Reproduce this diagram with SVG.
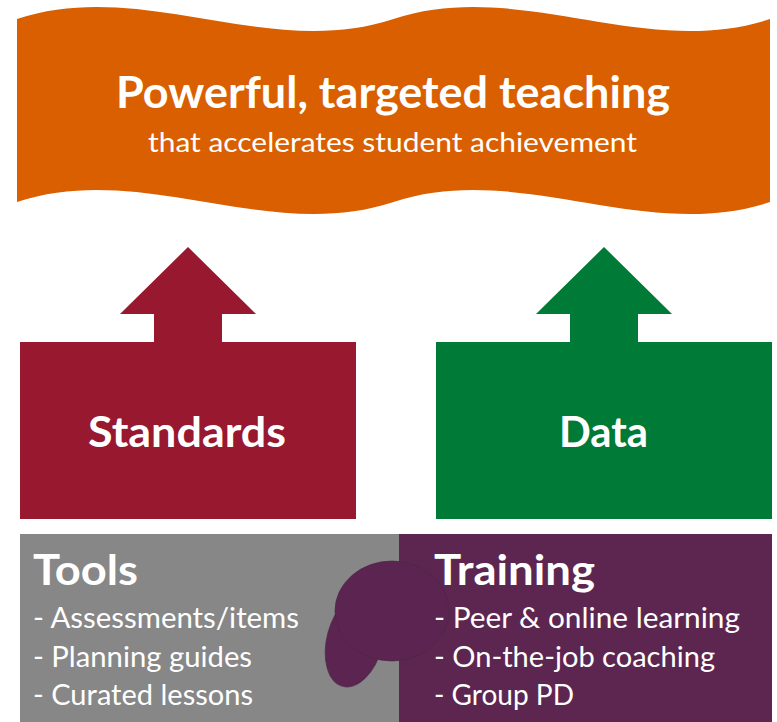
<svg xmlns="http://www.w3.org/2000/svg" width="777" height="722" viewBox="0 0 777 722">
<style>
text{font-family:Lato,"Open Sans","Liberation Sans",sans-serif;fill:#ffffff}
.b{font-weight:700}
.h1{font-size:43px}
.h2{font-size:42px}
.sub{font-size:27px}
.li{font-size:28px}
.blob{fill:#5c2450;stroke:#4a2844;stroke-width:1;stroke-opacity:0.7}
</style>
<rect width="777" height="722" fill="#ffffff"/>
<g id="banner">
<path d="M17,19 C142.5,-22.5 268,60.5 393.5,19 C519,-22.5 644.5,60.5 770,19 L770,202 C644.5,243.5 519,160.5 393.5,202 C268,243.5 142.5,160.5 17,202 Z" fill="#d95f00"/>
<text class="b h1" x="116" y="108" textLength="554" lengthAdjust="spacingAndGlyphs">Powerful, targeted teaching</text>
<text class="sub" x="148" y="152" textLength="489" lengthAdjust="spacingAndGlyphs">that accelerates student achievement</text>
</g>
<g id="connectors"></g>
<g id="standards">
<path d="M20,342 H154 V314 H120 L188,247 L256,314 H222 V342 H356 V519 H20 Z" fill="#97182f"/>
<text class="b h2" x="88" y="447" textLength="198" lengthAdjust="spacingAndGlyphs">Standards</text>
</g>
<g id="data">
<path d="M436,342 H570 V314 H536 L604,247 L672,314 H638 V342 H772 V519 H436 Z" fill="#007a37"/>
<text class="b h2" x="559" y="447" textLength="89" lengthAdjust="spacingAndGlyphs">Data</text>
</g>
<g id="tools">
<rect x="20" y="534" width="379" height="188" fill="#878787"/>
</g>
<g id="training">
<rect x="399" y="534" width="373" height="188" fill="#5c2650"/>
</g>
<g id="blob">
<ellipse class="blob" cx="355" cy="640" rx="28" ry="48" transform="rotate(15 355 640)"/>
<ellipse class="blob" cx="392" cy="611" rx="57" ry="50"/>
</g>
<g id="tools-text">
<text class="b h2" x="33" y="585" textLength="105" lengthAdjust="spacingAndGlyphs">Tools</text>
<text class="li" x="33" y="628" textLength="266" lengthAdjust="spacingAndGlyphs">- Assessments/items</text>
<text class="li" x="33" y="667" textLength="219" lengthAdjust="spacingAndGlyphs">- Planning guides</text>
<text class="li" x="33" y="705" textLength="220" lengthAdjust="spacingAndGlyphs">- Curated lessons</text>
</g>
<g id="training-text">
<text class="b h2" x="434" y="585" textLength="161" lengthAdjust="spacingAndGlyphs">Training</text>
<text class="li" x="434" y="628" textLength="306" lengthAdjust="spacingAndGlyphs">- Peer &amp; online learning</text>
<text class="li" x="434" y="667" textLength="281" lengthAdjust="spacingAndGlyphs">- On-the-job coaching</text>
<text class="li" x="434" y="705" textLength="140" lengthAdjust="spacingAndGlyphs">- Group PD</text>
</g>
</svg>
